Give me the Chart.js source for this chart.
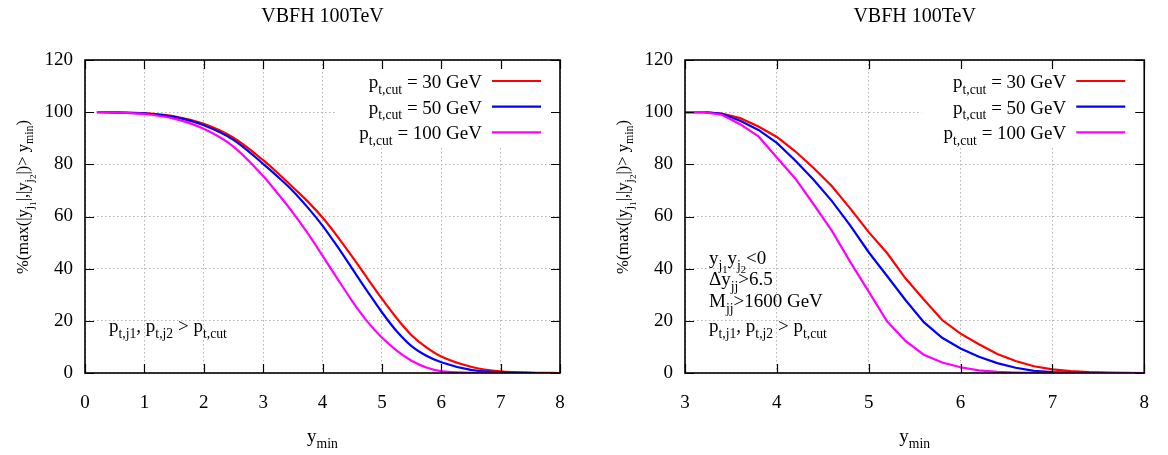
<!DOCTYPE html>
<html><head><meta charset="utf-8">
<script src="https://cdn.jsdelivr.net/npm/chart.js@4.4.1/dist/chart.umd.min.js"></script>
<style>
html,body{margin:0;padding:0;background:#fff;}
#wrap{position:relative;width:1168px;height:455px;overflow:hidden;background:#fff;}
.pane{position:absolute;top:0;width:584px;height:455px;}
</style></head><body>
<div id="wrap">
<div class="pane" style="left:0"><canvas id="c1" width="584" height="455"></canvas></div>
<div class="pane" style="left:584px"><canvas id="c2" width="584" height="455"></canvas></div>
</div>
<script>
// ---------- data ----------
const plotTitle = 'VBFH 100TeV';
const cutLabels = ['30 GeV', '50 GeV', '100 GeV'];
const seriesColors = ['#ff0000', '#0000ff', '#ff00ff'];

const leftXTicks = [0, 1, 2, 3, 4, 5, 6, 7, 8];
const rightXTicks = [3, 4, 5, 6, 7, 8];
const yTicks = [0, 20, 40, 60, 80, 100, 120];

const leftYmin  = [0.2, 0.5, 1, 1.5, 2, 2.5, 3, 3.25, 3.5, 3.75, 4, 4.25, 4.5, 4.75, 5, 5.25, 5.5, 5.75, 6, 6.5, 7, 7.6, 8];
const leftPt30  = [100, 99.9, 99.6, 98.4, 95.5, 90.2, 81.6, 76.6, 71.2, 65.8, 59.6, 52.4, 44.6, 36.5, 28.5, 21, 14.5, 9.8, 6.3, 2.4, 0.6, 0.1, 0];
const leftPt50  = [100, 99.9, 99.5, 98.2, 95, 89.4, 80.2, 75.2, 69.8, 63.5, 56.5, 48.5, 40, 31.5, 23.3, 16, 10.3, 6.6, 4.1, 1.2, 0.25, 0, null];
const leftPt100 = [100, 99.9, 99.3, 97.5, 93.6, 86.8, 75.5, 68.7, 61.5, 53.6, 45, 36.2, 27.6, 19.9, 13.6, 8.6, 4.7, 2.1, 0.7, 0.1, 0, null, null];

const rightYmin  = [3.0, 3.2, 3.4, 3.6, 3.8, 4.0, 4.2, 4.4, 4.6, 4.8, 5.0, 5.2, 5.4, 5.6, 5.8, 6.0, 6.2, 6.4, 6.6, 6.8, 7.0, 7.2, 7.4, 7.6, 7.8, 8.0];
const rightPt30  = [100, 100, 99.5, 97.7, 94.5, 90.5, 85, 78.6, 71.6, 63, 54, 46, 36.3, 28.2, 20.3, 15.1, 11, 7.3, 4.6, 2.6, 1.4, 0.7, 0.3, 0.15, 0.05, 0];
const rightPt50  = [100, 100, 99.4, 96.7, 93.2, 88.2, 81.5, 74.1, 65.9, 56.5, 46.3, 37.2, 28, 19.5, 13.5, 9.4, 6.2, 3.8, 2.0, 0.8, 0.3, 0.1, 0.05, 0, 0, 0];
const rightPt100 = [100, 100, 99, 95.4, 90.7, 82.6, 74.6, 64.7, 54.5, 42.5, 31.2, 19.8, 12.3, 7, 4, 2.2, 1.0, 0.4, 0.15, 0.05, 0, 0, 0, 0, 0, 0];

// ---------- rendering helpers ----------
const FONT = "'Liberation Serif', 'DejaVu Serif', serif";
const FS = 19;
const LEVELS = [{s: 1, dy: 0}, {s: 0.72, dy: 0.3}, {s: 0.55, dy: 0.48}];

function richWidth(ctx, segs, size) {
  let w = 0;
  for (const [t, l] of segs) { ctx.font = (size * LEVELS[l].s) + 'px ' + FONT; w += ctx.measureText(t).width; }
  return w;
}
function drawRich(ctx, segs, x, y, size, align) {
  const w = richWidth(ctx, segs, size);
  let cx = align === 'right' ? x - w : align === 'center' ? x - w / 2 : x;
  ctx.textAlign = 'left'; ctx.textBaseline = 'alphabetic';
  for (const [t, l] of segs) {
    ctx.font = (size * LEVELS[l].s) + 'px ' + FONT;
    ctx.fillText(t, cx, y + LEVELS[l].dy * size);
    cx += ctx.measureText(t).width;
  }
}

const ptCutSegs = [['p', 0], ['t,j1', 1], [', p', 0], ['t,j2', 1], [' > p', 0], ['t,cut', 1]];
const yTitleSegs = [['%(max(|y', 0], ['j', 1], ['1', 2], ['|,|y', 0], ['j', 1], ['2', 2], ['|)> y', 0], ['min', 1], [')', 0]];
const xTitleSegs = [['y', 0], ['min', 1]];

function makeDeco(annotLines) {
  return {
    id: 'deco',
    beforeDatasetsDraw(chart) {
      const {ctx, chartArea: a} = chart;
      ctx.save(); ctx.fillStyle = '#fff';
      ctx.fillRect(a.right - 223, a.top + 1, 222, 86);
      ctx.restore();
    },
    afterDraw(chart) {
      const {ctx, chartArea: a, scales: {x, y}} = chart;
      ctx.save();
      ctx.strokeStyle = '#000';
      ctx.lineWidth = 1.2;
      ctx.beginPath();
      x.ticks.forEach(t => {
        const px = Math.round(x.getPixelForValue(t.value)) + 0.5;
        ctx.moveTo(px, a.bottom); ctx.lineTo(px, a.bottom - 9);
        ctx.moveTo(px, a.top); ctx.lineTo(px, a.top + 9);
      });
      y.ticks.forEach(t => {
        const py = Math.round(y.getPixelForValue(t.value)) + 0.5;
        ctx.moveTo(a.left, py); ctx.lineTo(a.left + 9, py);
        ctx.moveTo(a.right, py); ctx.lineTo(a.right - 9, py);
      });
      ctx.stroke();
      ctx.lineWidth = 1.6;
      ctx.strokeRect(a.left, a.top, a.right - a.left, a.bottom - a.top);

      // legend
      ctx.fillStyle = '#000';
      const rows = [21, 46.7, 72.3];
      cutLabels.forEach((lab, i) => {
        const ly = a.top + rows[i];
        drawRich(ctx, [['p', 0], ['t,cut', 1], [' = ' + lab, 0]], a.right - 78, ly + 7, FS, 'right');
        ctx.strokeStyle = seriesColors[i]; ctx.lineWidth = 2.2;
        ctx.beginPath(); ctx.moveTo(a.right - 68, ly); ctx.lineTo(a.right - 19, ly); ctx.stroke();
      });

      // annotations
      ctx.fillStyle = '#000';
      annotLines.forEach(([segs, dyb]) => drawRich(ctx, segs, a.left + 24, dyb, FS, 'left'));

      // title
      const cxm = (a.left + a.right) / 2;
      drawRich(ctx, [[plotTitle, 0]], cxm, 22, 20, 'center');
      // x title
      drawRich(ctx, xTitleSegs, cxm, 442, FS, 'center');
      // y title
      ctx.save();
      ctx.translate(a.left - 57, 197);
      ctx.rotate(-Math.PI / 2);
      drawRich(ctx, yTitleSegs, 0, 0, 16.5, 'center');
      ctx.restore();
      ctx.restore();
    }
  };
}

function toPts(xs, ys) {
  const out = [];
  xs.forEach((xv, i) => { if (ys[i] !== null && ys[i] !== undefined) out.push({x: xv, y: ys[i]}); });
  return out;
}

function build(canvasId, xs, series, xmin, xmax, xTickVals, yAxisWidth, rightPad, smooth, annot) {
  const datasets = series.map((ys, i) => ({
    label: 'pt,cut = ' + cutLabels[i],
    data: toPts(xs, ys),
    borderColor: seriesColors[i],
    backgroundColor: seriesColors[i],
    borderWidth: 2.2,
    pointRadius: 0,
    fill: false,
    order: 3 - i,
    tension: smooth ? 0.4 : 0,
    cubicInterpolationMode: smooth ? 'monotone' : 'default'
  }));
  return new Chart(document.getElementById(canvasId), {
    type: 'line',
    data: {datasets},
    options: {
      responsive: false,
      animation: false,
      devicePixelRatio: 1,
      layout: {padding: {top: 60, right: rightPad, bottom: 0, left: 0}},
      plugins: {legend: {display: false}, tooltip: {enabled: false}, title: {display: false}},
      scales: {
        x: {
          type: 'linear', min: xmin, max: xmax,
          afterBuildTicks: s => { s.ticks = xTickVals.map(v => ({value: v})); },
          afterFit: s => { s.height = 82; },
          ticks: {color: '#000', font: {family: FONT, size: FS}, padding: 19, maxRotation: 0, autoSkip: false},
          grid: {color: '#b4b4b4', lineWidth: 1, drawTicks: false},
          border: {display: false, dash: [1.5, 2.5]}
        },
        y: {
          type: 'linear', min: 0, max: 120,
          afterBuildTicks: s => { s.ticks = yTicks.map(v => ({value: v})); },
          afterFit: s => { s.width = yAxisWidth; },
          ticks: {color: '#000', font: {family: FONT, size: FS}, padding: 12},
          grid: {color: '#b4b4b4', lineWidth: 1, drawTicks: false},
          border: {display: false, dash: [1.5, 2.5]}
        }
      }
    },
    plugins: [makeDeco(annot)]
  });
}

build('c1', leftYmin, [leftPt30, leftPt50, leftPt100], 0, 8, leftXTicks, 85, 24, true,
  [[ptCutSegs, 332]]);
build('c2', rightYmin, [rightPt30, rightPt50, rightPt100], 3, 8, rightXTicks, 101, 7, false,
  [
    [[['y', 0], ['j', 1], ['1', 2], ['y', 0], ['j', 1], ['2', 2], ['<0', 0]], 264],
    [[['\u0394y', 0], ['jj', 1], ['>6.5', 0]], 285],
    [[['M', 0], ['jj', 1], ['>1600 GeV', 0]], 307],
    [ptCutSegs, 332]
  ]);
</script>
</body></html>
